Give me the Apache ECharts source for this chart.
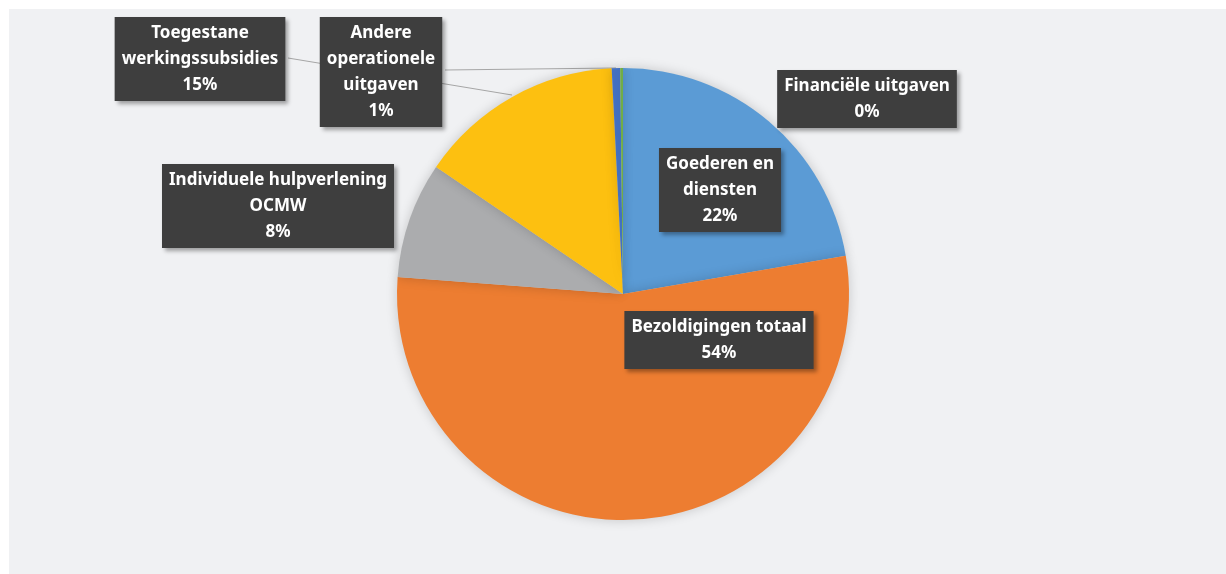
<!DOCTYPE html>
<head>
    <meta charset="utf-8">
    <title>ECharts</title>
    <script src="https://cdn.jsdelivr.net/npm/echarts@6/dist/echarts.min.js"></script>
    <style>
        body { margin: 0; background: #fff; }
    </style>
</head>
<body>
    <div id="container" style="width:1226px;height:574px"></div>
    <script type="text/javascript">

        // uitgaven per categorie (aandeel in %)
        var categories = ['Goederen en\ndiensten', 'Bezoldigingen totaal', 'Individuele hulpverlening\nOCMW',
            'Toegestane\nwerkingssubsidies', 'Andere\noperationele\nuitgaven', 'Financiële uitgaven'];
        var values = [22.3, 53.9, 8.3, 14.7, 0.6, 0.2];
        var colors = ['#5b9bd5', '#ed7d31', '#abacae', '#fdc010', '#4472c4', '#70ad47'];

        // plaats van de labels (midden van het vak)
        var labelPos = [[720, 190], [719, 340], [278, 206], [200, 59], [381, 72], [867, 99]];
        // verbindingslijnen
        var linePts = {
            3: [[288, 58], [400, 76.5], [512, 95]],
            4: [[445, 70], [530, 69], [616, 68]]
        };

        var dom = document.getElementById("container");
        var myChart = echarts.init(dom);

        var data = [];
        for (var i = 0; i < categories.length; i++) {
            data.push({
                name: categories[i],
                value: values[i],
                itemStyle: { color: colors[i] },
                labelLine: { show: !!linePts[i] }
            });
        }

        var option = {
            backgroundColor: '#fff',
            animation: false,
            graphic: [{
                type: 'rect',
                shape: { x: 9, y: 9, width: 1217, height: 565 },
                style: { fill: '#f0f1f3' },
                z: -10
            }],
            series: [{
                type: 'pie',
                center: [623, 294],
                radius: 226,
                startAngle: 90,
                clockwise: true,
                avoidLabelOverlap: false,
                itemStyle: {
                    shadowBlur: 12,
                    shadowColor: 'rgba(0,0,0,0.18)'
                },
                label: {
                    show: true,
                    position: 'outside',
                    formatter: function (p) {
                        return p.name + '\n' + Math.round(p.percent) + '%';
                    },
                    color: '#fff',
                    fontFamily: 'Noto Sans',
                    fontWeight: 'bold',
                    fontSize: 17,
                    lineHeight: 26,
                    align: 'center',
                    backgroundColor: '#3e3e3e',
                    padding: [3, 7],
                    shadowBlur: 4,
                    shadowOffsetX: 3,
                    shadowOffsetY: 3,
                    shadowColor: 'rgba(0,0,0,0.35)'
                },
                labelLine: {
                    lineStyle: { color: '#a6a6a6', width: 1 }
                },
                labelLayout: function (params) {
                    var p = labelPos[params.dataIndex];
                    var res = { x: p[0], y: p[1], align: 'center', verticalAlign: 'middle' };
                    if (linePts[params.dataIndex]) {
                        res.labelLinePoints = linePts[params.dataIndex];
                    }
                    return res;
                },
                data: data
            }]
        };
        myChart.setOption(option);

    </script>
</body>
